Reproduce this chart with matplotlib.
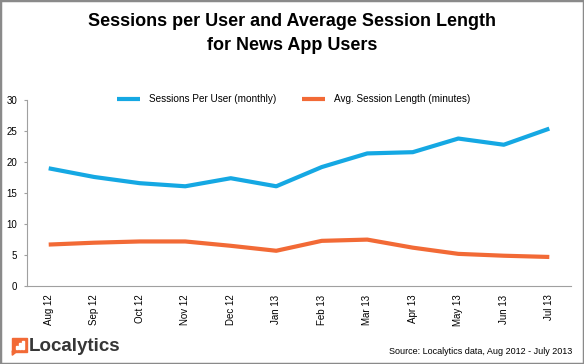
import matplotlib
matplotlib.use('Agg')
import matplotlib.pyplot as plt
from matplotlib.patches import Rectangle, Polygon

plt.rcParams['font.family'] = ['Liberation Sans', 'DejaVu Sans']

# Datos
meses = ['Aug 12', 'Sep 12', 'Oct 12', 'Nov 12', 'Dec 12', 'Jan 13',
         'Feb 13', 'Mar 13', 'Apr 13', 'May 13', 'Jun 13', 'Jul 13']
sesiones_por_usuario = [19.0, 17.6, 16.6, 16.1, 17.4, 16.1,
                        19.2, 21.4, 21.6, 23.8, 22.8, 25.4]
duracion_sesion = [6.7, 7.0, 7.2, 7.2, 6.5, 5.7,
                   7.3, 7.5, 6.2, 5.2, 4.9, 4.7]

azul = '#15A8E3'
naranja = '#F26A36'
gris = '#A0A0A0'

fig = plt.figure(figsize=(5.84, 3.64), dpi=100)
ax = fig.add_axes([0.046, 0.214, 0.932, 0.511])

x = range(len(meses))
ax.plot(x, sesiones_por_usuario, color=azul, lw=3, label='Sessions Per User (monthly)',
        solid_capstyle='butt')
ax.plot(x, duracion_sesion, color=naranja, lw=3, label='Avg. Session Length (minutes)',
        solid_capstyle='butt')

ax.set_xlim(-0.48, 11.48)
ax.set_ylim(0, 30)
ax.set_yticks([0, 5, 10, 15, 20, 25, 30])
ax.set_xticks(list(x))
ax.set_xticklabels(meses, rotation=90)

for lado in ['top', 'right']:
    ax.spines[lado].set_visible(False)
for lado in ['left', 'bottom']:
    ax.spines[lado].set_color(gris)
    ax.spines[lado].set_linewidth(0.8)
ax.tick_params(axis='y', length=2, color=gris, pad=5, labelsize=7)
ax.tick_params(axis='x', length=0, pad=6, labelsize=7)

leg = ax.legend(loc='lower center', bbox_to_anchor=(0.49, 0.93), ncol=2, frameon=False,
                fontsize=7.2, handlelength=2.3, handletextpad=0.9, columnspacing=2.5)

fig.text(0.5, 0.964, 'Sessions per User and Average Session Length\nfor News App Users',
         ha='center', va='top', fontsize=13, fontweight='bold', linespacing=1.5)

# Logo y fuente
fig.patches.append(Rectangle((0.021, 0.033), 0.025, 0.038, transform=fig.transFigure,
                             color=naranja, figure=fig))
fig.patches.append(Polygon([(0.021, 0.036), (0.021, 0.024), (0.030, 0.036)], closed=True,
                           transform=fig.transFigure, color=naranja, figure=fig))
for i, h in enumerate([0.010, 0.017, 0.024]):
    fig.patches.append(Rectangle((0.027 + i * 0.0055, 0.040), 0.003, h,
                                 transform=fig.transFigure, color='white', figure=fig))
fig.text(0.049, 0.049, 'Localytics', ha='left', va='center', fontsize=13.5,
         fontweight='bold', color='#363636')
fig.text(0.98, 0.035, 'Source: Localytics data, Aug 2012 - July 2013', ha='right',
         va='center', fontsize=6.5)

# Marco gris
fig.patches.append(Rectangle((0, 0), 1, 1, transform=fig.transFigure, fill=False,
                             edgecolor='#8A8A8A', lw=2.5, figure=fig))

fig.savefig('out.png', dpi=100)
